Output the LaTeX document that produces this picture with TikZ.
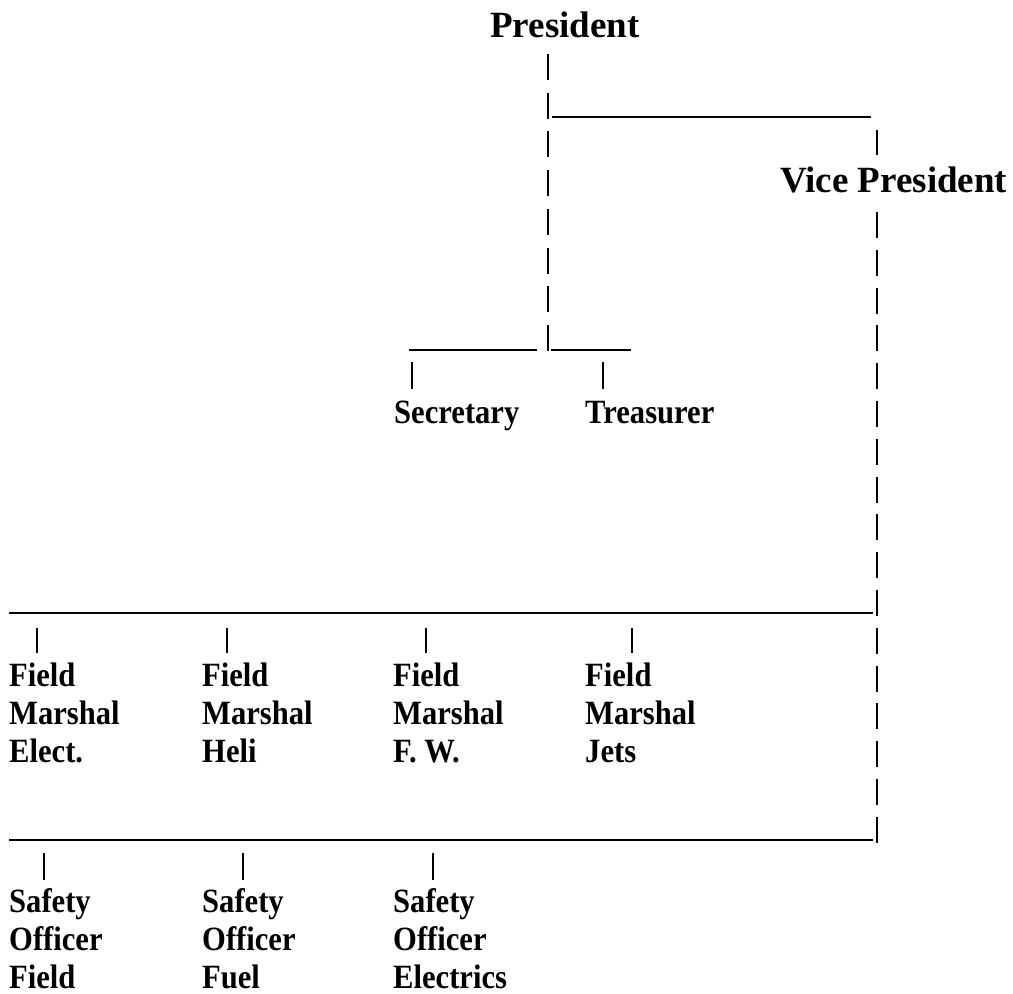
\documentclass[tikz,border=0pt]{standalone}
\usepackage{fontspec}
\setmainfont{Liberation Serif}
\newfontfamily\narrowfont[FakeStretch=0.9]{Liberation Serif}
\usepackage{tikz}
\usetikzlibrary{calc}
\usetikzlibrary{positioning}
\tikzstyle{big} = [inner sep=0pt, anchor=base west, font=\fontsize{37}{44}\selectfont\bfseries]
\tikzstyle{small} = [inner sep=0pt, anchor=base west, align=left, font=\narrowfont\fontsize{34}{38}\selectfont\bfseries]
\tikzstyle{rule} = [-, line width=1.6pt]
\tikzstyle{bar} = [-, line width=1.8pt, dash pattern=on 26pt off 12.7pt]
\tikzstyle{vbar} = [-, line width=1.8pt, dash pattern=on 26pt off 11.8pt]

\begin{document}
\begin{tikzpicture}[x=1pt, y=-1pt]
\useasboundingbox (0, 0) rectangle (1013, 994);
\node [big] (pres) at (490, 37) {President};
\node [big] (vp) at (780, 192) {Vice President};
\node [small] (sec) at (394, 423) {Secretary};
\node [small] (treas) at (585, 423) {Treasurer};
% base anchor sits on the last line
\node [small] (fm1) at (9, 762) {Field\\Marshal\\Elect.};
\node [small] (fm2) at (202, 762) {Field\\Marshal\\Heli};
\node [small] (fm3) at (393, 762) {Field\\Marshal\\F. W.};
\node [small] (fm4) at (585, 762) {Field\\Marshal\\Jets};
\node [small] (so1) at (9, 988) {Safety\\Officer\\Field};
\node [small] (so2) at (202, 988) {Safety\\Officer\\Fuel};
\node [small] (so3) at (393, 988) {Safety\\Officer\\Electrics};
% junctions
\coordinate (ptop) at (548, 54);
\coordinate (pbot) at (548, 352);
\coordinate (vtop) at (877, 130);
\coordinate (vmid) at (877, 155);
\coordinate (vdown) at (877, 212);
\coordinate (vbot) at (877, 843);
% president to everyone
\draw [bar] (ptop) -- (pbot);
\draw [rule] (552, 117) coordinate (ja) -- (871, 117) coordinate (jb);
\draw [rule] (vtop) -- (vmid);
\draw [vbar] (vdown) -- (vbot);
\draw [rule] (409, 350) coordinate (sa) -- (537, 350) coordinate (sb);
\draw [rule] (551, 350) coordinate (ta) -- (631, 350) coordinate (tb);
\draw [rule] (412, 362) -- (412, 389);
\draw [rule] (603, 362) -- (603, 389);
% vice president branches
\draw [rule] (9, 613) coordinate (fa) -- (873, 613) coordinate (fb);
\draw [rule] (9, 840) coordinate (oa) -- (873, 840) coordinate (ob);
\foreach \x in {37, 227, 426, 632}
  \draw [rule] (\x, 628) -- (\x, 653);
\foreach \x in {44, 243, 433}
  \draw [rule] (\x, 853) -- (\x, 880);
\end{tikzpicture}
\end{document}
